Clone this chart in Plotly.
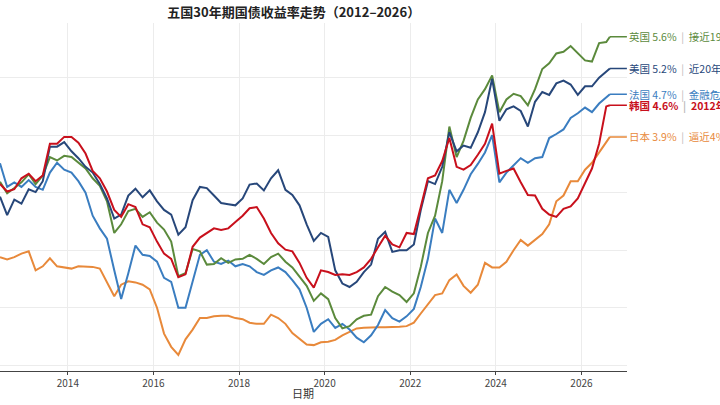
import pandas as pd
import plotly.graph_objects as go

# two-monthly readings, Jun 2012 .. Aug 2026, plus Sep 2026
dates = list(pd.date_range("2012-06-01", "2026-08-01", freq="2MS")) + [pd.Timestamp("2026-09-01")]

us = [2.93, 2.61, 2.88, 2.81, 3.06, 3.01, 3.20, 3.80, 3.80, 3.88, 3.72, 3.60, 3.45, 3.35, 3.15, 2.90, 2.55, 2.62,
      2.95, 3.07, 2.92, 3.04, 2.85, 2.70, 2.62, 2.27, 2.40, 2.87, 3.10, 3.08, 2.95, 2.82, 2.80, 2.78, 2.90,
      3.14, 3.16, 3.04, 3.25, 3.39, 3.05, 2.96, 2.78, 2.45, 2.16, 2.30, 2.23, 1.65, 1.42, 1.36, 1.45, 1.62,
      1.75, 2.20, 2.32, 1.97, 2.00, 2.00, 2.10, 2.70, 3.20, 3.15, 3.45, 4.05, 3.72, 3.82, 3.78, 4.05, 4.40,
      4.98, 4.25, 4.45, 4.50, 4.42, 4.15, 4.58, 4.75, 4.70, 4.90, 4.95, 4.88, 4.70, 4.85, 4.85, 5.00, 5.10,
      5.16]
korea = [3.15, 3.02, 3.06, 3.25, 3.33, 3.20, 3.30, 3.85, 3.85, 3.97, 3.97, 3.87, 3.68, 3.38, 3.25, 3.02, 2.70, 2.58,
         2.80, 2.75, 2.45, 2.40, 2.15, 1.94, 1.85, 1.53, 1.58, 2.06, 2.22, 2.30, 2.38, 2.35, 2.38, 2.49, 2.60,
         2.73, 2.75, 2.55, 2.30, 2.12, 2.01, 1.98, 1.78, 1.52, 1.35, 1.65, 1.62, 1.57, 1.58, 1.57, 1.62, 1.70,
         1.85, 2.05, 2.25, 2.10, 2.05, 2.30, 2.28, 2.75, 3.25, 3.30, 3.55, 3.95, 3.45, 3.40, 3.48, 3.66, 3.85,
         4.20, 3.33, 3.38, 3.42, 3.18, 2.96, 2.95, 2.72, 2.62, 2.58, 2.72, 2.76, 2.90, 3.18, 3.42, 3.85, 4.50,
         4.52]
uk = [3.19, 2.99, 3.08, 3.18, 3.32, 3.15, 3.30, 3.62, 3.56, 3.64, 3.62, 3.52, 3.42, 3.25, 3.12, 2.85, 2.30, 2.45,
      2.68, 2.72, 2.58, 2.66, 2.48, 2.36, 2.15, 1.55, 1.60, 2.02, 1.98, 1.75, 1.76, 1.86, 1.78, 1.84, 1.85,
      1.92, 1.85, 1.76, 1.88, 1.94, 1.80, 1.70, 1.55, 1.38, 1.12, 1.25, 1.15, 0.82, 0.64, 0.68, 0.80, 0.86,
      0.88, 1.20, 1.36, 1.28, 1.22, 1.10, 1.25, 1.71, 2.30, 2.60, 3.20, 4.15, 3.62, 3.90, 4.30, 4.62, 4.80,
      5.04, 4.40, 4.62, 4.72, 4.68, 4.52, 4.80, 5.15, 5.25, 5.42, 5.45, 5.55, 5.42, 5.30, 5.28, 5.60, 5.62,
      5.71]
france = [3.51, 3.10, 3.18, 3.10, 3.22, 3.10, 3.05, 3.35, 3.52, 3.40, 3.35, 3.20, 3.00, 2.60, 2.38, 2.20, 1.65, 1.15,
          1.60, 2.08, 1.92, 1.90, 1.80, 1.52, 1.45, 1.00, 1.00, 1.48, 1.92, 2.00, 1.80, 1.76, 1.82, 1.72, 1.76,
          1.72, 1.62, 1.57, 1.65, 1.70, 1.62, 1.48, 1.32, 1.00, 0.58, 0.72, 0.80, 0.65, 0.72, 0.62, 0.48, 0.40,
          0.52, 0.70, 0.96, 0.82, 0.76, 0.85, 0.98, 1.36, 1.85, 2.55, 2.30, 3.05, 2.82, 3.05, 3.32, 3.50, 3.70,
          4.00, 3.18, 3.35, 3.48, 3.60, 3.52, 3.60, 3.62, 3.95, 4.02, 4.10, 4.30, 4.38, 4.48, 4.40, 4.55, 4.65,
          4.71]
japan = [1.88, 1.84, 1.88, 1.94, 1.98, 1.65, 1.72, 1.86, 1.72, 1.70, 1.68, 1.72, 1.71, 1.71, 1.68, 1.45, 1.20, 1.40,
         1.46, 1.44, 1.40, 1.32, 1.00, 0.55, 0.32, 0.18, 0.45, 0.62, 0.82, 0.82, 0.85, 0.86, 0.86, 0.82, 0.80,
         0.74, 0.72, 0.72, 0.88, 0.82, 0.72, 0.56, 0.46, 0.36, 0.35, 0.40, 0.41, 0.44, 0.52, 0.58, 0.64, 0.65,
         0.66, 0.66, 0.66, 0.66, 0.67, 0.68, 0.74, 0.90, 1.05, 1.22, 1.25, 1.48, 1.58, 1.38, 1.26, 1.40, 1.78,
         1.70, 1.70, 1.80, 2.00, 2.18, 2.08, 2.18, 2.28, 2.45, 2.85, 2.95, 3.20, 3.20, 3.40, 3.52, 3.70, 3.88,
         3.97]

names = ["日本", "法国", "英国", "美国", "韩国"]
label_vals = ["3.9%", "4.7%", "5.6%", "5.2%", "4.6%"]
notes = ["逼近4%", "金融危机以来最高", "接近1998年以来高位", "近20年高位", "2012年以来新高"]
series = [japan, france, uk, us, korea]
colors = ["#e8893a", "#3a7dc0", "#5b8a3c", "#27477a", "#c8101c"]

FONT = "Noto Sans CJK SC"

fig = go.Figure()
for name, vals, col in zip(names, series, colors):
    fig.add_trace(go.Scatter(x=dates, y=vals, mode="lines", name=name,
                             line=dict(color=col, width=2)))

# end labels with a short leader line
for name, vals, col, lv, note in zip(names, series, colors, label_vals, notes):
    txt = f"{name} {lv}  <span style='color:#bbbbbb'>|</span>  {note}"
    if name == "韩国":
        txt = f"<b>{name} {lv}  <span style='color:#bbbbbb'>|</span>  {note}</b>"
    fig.add_annotation(x=dates[-1], y=vals[-1], text=txt, showarrow=True,
                       arrowhead=0, arrowwidth=1.5, arrowcolor=col, ax=17, ay=0,
                       xanchor="left", font=dict(family=FONT, size=10.5, color=col))

fig.add_annotation(x=0.483, y=-0.063, xref="paper", yref="paper", text="日期",
                   showarrow=False, yanchor="middle",
                   font=dict(family=FONT, size=11, color="#333"))

fig.update_layout(
    width=720, height=405,
    margin=dict(l=0, r=93, t=23, b=34),
    title=dict(text="<b>五国30年期国债收益率走势（2012–2026）</b>", x=0.408, xref="container",
               y=0.97, yanchor="middle", font=dict(family=FONT, size=13, color="#222")),
    plot_bgcolor="white", paper_bgcolor="white",
    showlegend=False,
    font=dict(family=FONT),
    xaxis=dict(range=["2012-06-01", "2027-01-25"], tick0="2014-01-01", dtick="M24",
               tickformat="%Y", showgrid=True, gridcolor="#ececec",
               showline=True, linecolor="#444", linewidth=1,
               ticks="outside", ticklen=3, tickcolor="#444",
               tickfont=dict(size=10, color="#444")),
    yaxis=dict(range=[-0.1, 5.95], dtick=1, showgrid=True, gridcolor="#ececec",
               zeroline=False, showticklabels=False),
)

# the page's default 8px body margin would push the figure off its spot
fig.write_html("out.html", config={"displayModeBar": False},
               post_script="document.body.style.margin='0';")
